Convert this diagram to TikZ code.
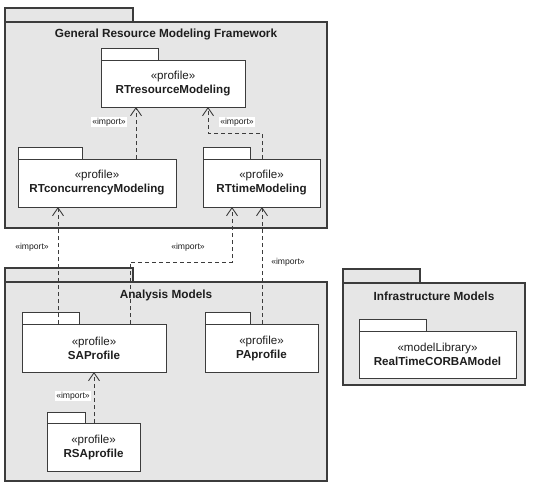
\documentclass[tikz,border=0pt]{standalone}
\usepackage{fontspec}
\setmainfont{Liberation Sans}
\usetikzlibrary{arrows.meta}

\definecolor{pkgline}{HTML}{3C3C3C}
\definecolor{pkgfill}{HTML}{E6E6E6}
\definecolor{inktext}{HTML}{1E1E1E}

\tikzset{
  outerpkg/.style={draw=pkgline, fill=pkgfill, line width=1.2pt, anchor=north west,
    inner sep=0pt, outer sep=0pt},
  innerpkg/.style={draw=pkgline, fill=white, line width=0.9pt, anchor=north west,
    inner sep=0pt, outer sep=0pt, align=center, text=inktext,
    font=\fontsize{11.6}{14}\selectfont},
  outertab/.style={draw=pkgline, fill=pkgfill, line width=1.2pt},
  innertab/.style={draw=pkgline, fill=white, line width=0.9pt},
  pkgtitle/.style={text=inktext, font=\fontsize{11.8}{13}\selectfont\bfseries, inner sep=0pt},
  importlbl/.style={fill=white, text=inktext, inner sep=1pt,
    font=\fontsize{8.6}{9}\selectfont},
  dep/.style={draw=pkgline, line width=0.9pt, dash pattern=on 4pt off 3pt,
    -{Straight Barb[length=8pt,width=11pt,line width=0.9pt]}},
}

\begin{document}
\begin{tikzpicture}[x=1pt,y=-1pt]
\useasboundingbox (0,0) rectangle (533,485);

% ---- outer packages ----
\node[outerpkg, minimum width=322pt, minimum height=206pt] (grmf) at (5,22) {};
\draw[outertab] (grmf.north west) rectangle ++(128,-14);
\node[pkgtitle] (grmftitle) at (166,34) {General Resource Modeling Framework};

\node[outerpkg, minimum width=322pt, minimum height=199pt] (anal) at (5,282) {};
\draw[outertab] (anal.north west) rectangle ++(128,-14);
\node[pkgtitle] (analtitle) at (166,295) {Analysis Models};

\node[outerpkg, minimum width=182pt, minimum height=102pt] (infra) at (343,283) {};
\draw[outertab] (infra.north west) rectangle ++(77,-14);
\node[pkgtitle] (infratitle) at (434,296) {Infrastructure Models};

% ---- profiles ----
\node[innerpkg, minimum width=144pt, minimum height=47pt] (rtres) at (101,60)
  {«profile»\\\textbf{RTresourceModeling}};
\draw[innertab] (rtres.north west) rectangle ++(57,-12);

\node[innerpkg, minimum width=158pt, minimum height=48pt] (rtconc) at (18,159)
  {«profile»\\\textbf{RTconcurrencyModeling}};
\draw[innertab] (rtconc.north west) rectangle ++(64,-12);

\node[innerpkg, minimum width=117pt, minimum height=48pt] (rttime) at (203,159)
  {«profile»\\\textbf{RTtimeModeling}};
\draw[innertab] (rttime.north west) rectangle ++(47,-12);

\node[innerpkg, minimum width=144pt, minimum height=48pt] (sap) at (22,324)
  {«profile»\\\textbf{SAProfile}};
\draw[innertab] (sap.north west) rectangle ++(57,-12);

\node[innerpkg, minimum width=113pt, minimum height=48pt] (pap) at (205,324)
  {«profile»\\\textbf{PAprofile}};
\draw[innertab] (pap.north west) rectangle ++(45,-12);

\node[innerpkg, minimum width=93pt, minimum height=48pt] (rsap) at (47,423)
  {«profile»\\\textbf{RSAprofile}};
\draw[innertab] (rsap.north west) rectangle ++(38,-11);

\node[innerpkg, minimum width=157pt, minimum height=47pt] (corba) at (359,331)
  {«modelLibrary»\\\textbf{RealTimeCORBAModel}};
\draw[innertab] (corba.north west) rectangle ++(67,-12);

% ---- routing columns and bends of the import dependencies ----
\coordinate (c1) at (136,0);
\coordinate (c2) at (58,0);
\coordinate (c3) at (94,0);
\coordinate (b1) at (262,133);
\coordinate (b2) at (208,133);
\coordinate (b3) at (130,262);
\coordinate (b4) at (232,262);

% ---- import dependencies ----
\draw[dep] (rtconc.north -| c1) -- (rtres.south -| c1);
\node[importlbl] (l1) at (109,122) {«import»};

\draw[dep] (rttime.north -| b1) -- (b1) -- (b2) -- (b2 |- rtres.south);
\node[importlbl] (l2) at (237,122) {«import»};

\draw[dep] (sap.north -| c2) -- (rtconc.south -| c2);
\node[importlbl] (l3) at (32,247) {«import»};

\draw[dep] (sap.north -| b3) -- (b3) -- (b4) -- (b4 |- rttime.south);
\node[importlbl] (l4) at (188,247) {«import»};

\draw[dep] (pap.north -| b1) -- (b1 |- rttime.south);
\node[importlbl] (l5) at (288,262) {«import»};

\draw[dep] (rsap.north -| c3) -- (sap.south -| c3);
\node[importlbl] (l6) at (73,396) {«import»};
\end{tikzpicture}
\end{document}
